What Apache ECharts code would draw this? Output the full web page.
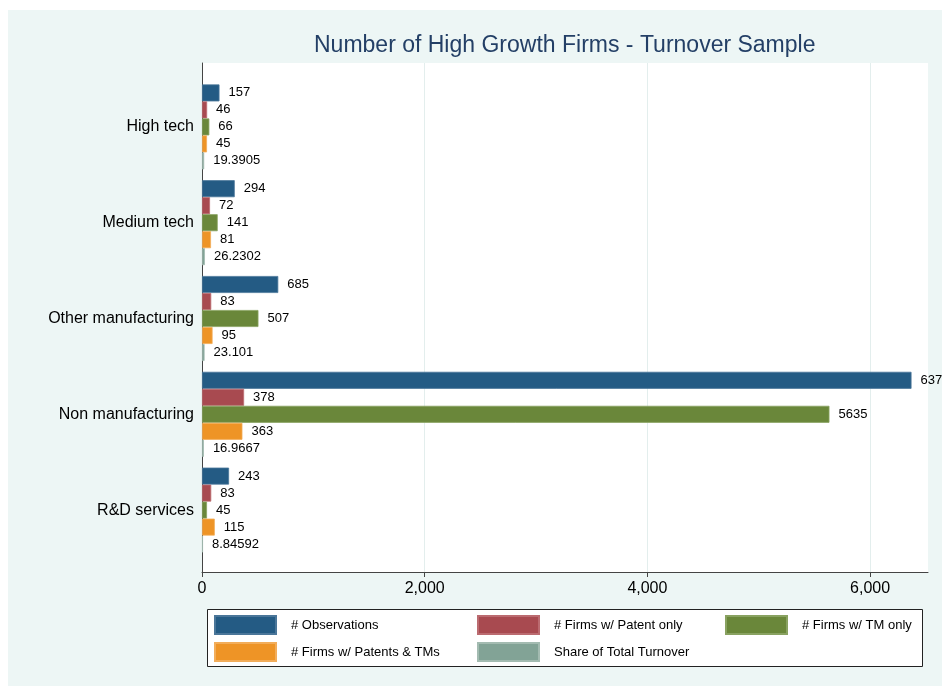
<!DOCTYPE html>
<html>
<head>
<meta charset="utf-8">
<script src="https://cdn.jsdelivr.net/npm/echarts@6/dist/echarts.min.js"></script>
<style>
html,body{margin:0;padding:0;background:#fff;}
#chart{width:942px;height:686px;}
</style>
</head>
<body>
<div id="chart"></div>
<script>
var categories = ['High tech', 'Medium tech', 'Other manufacturing', 'Non manufacturing', 'R&D services'];
var seriesNames = ['# Observations', '# Firms w/ Patent only', '# Firms w/ TM only', '# Firms w/ Patents & TMs', 'Share of Total Turnover'];
var observations = [157, 294, 685, 6372, 243];
var patentOnly = [46, 72, 83, 378, 83];
var tmOnly = [66, 141, 507, 5635, 45];
var patentsAndTMs = [45, 81, 95, 363, 115];
var shareTurnover = [19.3905, 26.2302, 23.101, 16.9667, 8.84592];
var xTicks = [0, 2000, 4000, 6000];

var colors = ['#245b84', '#a84a50', '#6a873a', '#ee9426', '#82a396'];
var borders = ['#4a7699', '#bb6b70', '#89a261', '#f2ad5a', '#a3bbb1'];
var values = [observations, patentOnly, tmOnly, patentsAndTMs, shareTurnover];

var chart = echarts.init(document.getElementById('chart'));

var series = seriesNames.map(function (name, i) {
  return {
    name: name,
    type: 'bar',
    xAxisIndex: 1,
    yAxisIndex: 1,
    data: values[i],
    barWidth: 17,
    barGap: '0%',
    itemStyle: { color: colors[i], borderColor: borders[i], borderWidth: 0.8 },
    label: {
      show: true,
      position: 'right',
      distance: 9,
      color: '#000',
      fontSize: 13,
      fontFamily: 'Liberation Sans, Arial, sans-serif'
    },
    emphasis: { disabled: true },
    animation: false
  };
});

var legendPos = [
  { left: 214, top: 615 },
  { left: 477, top: 615 },
  { left: 725, top: 615 },
  { left: 214, top: 642 },
  { left: 477, top: 642 }
];
var legends = seriesNames.map(function (name, i) {
  return {
    data: [name],
    left: legendPos[i].left,
    top: legendPos[i].top,
    padding: 0,
    itemWidth: 61,
    itemHeight: 18,
    icon: 'rect',
    selectedMode: false,
    textStyle: {
      color: '#000',
      fontSize: 13,
      fontFamily: 'Liberation Sans, Arial, sans-serif',
      padding: [0, 0, 0, 10]
    }
  };
});

var option = {
  backgroundColor: '#ffffff',
  animation: false,
  textStyle: { fontFamily: 'Liberation Sans, Arial, sans-serif' },
  title: {
    text: 'Number of High Growth Firms - Turnover Sample',
    left: 314,
    top: 34,
    padding: 0,
    textStyle: {
      color: '#233f66',
      fontSize: 23,
      fontWeight: 'normal',
      fontFamily: 'Liberation Sans, Arial, sans-serif'
    }
  },
  graphic: [
    {
      type: 'rect',
      z: -100,
      shape: { x: 8, y: 10, width: 934, height: 676 },
      style: { fill: '#edf6f5' },
      silent: true
    },
    {
      type: 'rect',
      z: 1,
      shape: { x: 207.5, y: 609.5, width: 715, height: 57 },
      style: { fill: '#ffffff', stroke: '#222', lineWidth: 1 },
      silent: true
    }
  ],
  legend: legends,
  grid: [
    { left: 202, right: 14, top: 63, bottom: 114, show: true, backgroundColor: '#ffffff', borderWidth: 0 },
    { left: 202, right: 14, top: 79, bottom: 128 }
  ],
  xAxis: [
    {
      type: 'value',
      gridIndex: 0,
      min: 0,
      max: 6520,
      axisLine: { show: true, lineStyle: { color: '#444', width: 1 } },
      axisTick: { show: true, length: 5, customValues: xTicks, lineStyle: { color: '#444' } },
      axisLabel: { show: true, customValues: xTicks, fontSize: 16, color: '#000', margin: 9 },
      splitLine: { show: true, lineStyle: { color: '#e3eeed', width: 1 } }
    },
    {
      type: 'value',
      gridIndex: 1,
      min: 0,
      max: 6520,
      show: false,
      splitLine: { show: false }
    }
  ],
  yAxis: [
    {
      type: 'value',
      gridIndex: 0,
      min: 0,
      max: 1,
      axisLine: { show: true, lineStyle: { color: '#444', width: 1 } },
      axisTick: { show: false },
      axisLabel: { show: false },
      splitLine: { show: false }
    },
    {
      type: 'category',
      gridIndex: 1,
      data: categories,
      inverse: true,
      axisLine: { show: false },
      axisTick: { show: false },
      axisLabel: { show: true, fontSize: 16, color: '#000', margin: 8 },
      splitLine: { show: false }
    }
  ],
  series: series
};

chart.setOption(option);
</script>
</body>
</html>
